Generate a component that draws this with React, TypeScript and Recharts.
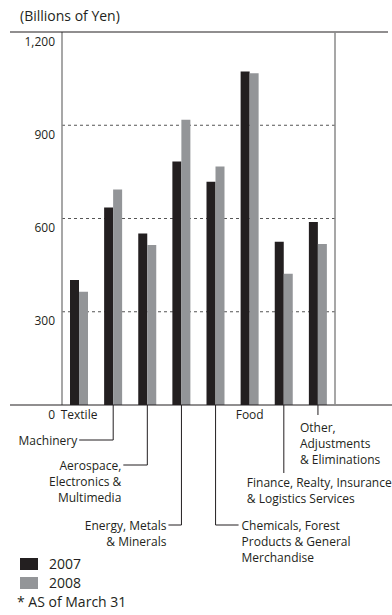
import React from 'react';
import { BarChart, Bar, XAxis, YAxis, CartesianGrid, Legend } from 'recharts';

// segment keys, in drawing order
const segments = ['Textile', 'Machinery', 'Aerospace', 'Energy', 'Chemicals', 'Food', 'Finance', 'Other'];

// label text under the axis, one entry per segment
const segmentLines = [
  ['Textile'],
  ['Machinery'],
  ['Aerospace,', 'Electronics &', 'Multimedia'],
  ['Energy, Metals', '& Minerals'],
  ['Chemicals, Forest', 'Products & General', 'Merchandise'],
  ['Food'],
  ['Finance, Realty, Insurance', '& Logistics Services'],
  ['Other,', 'Adjustments', '& Eliminations']
];

// total assets, billions of yen
const assets2007 = [402, 635, 552, 783, 718, 1073, 525, 589];
const assets2008 = [364, 693, 515, 918, 767, 1067, 422, 518];

const yTicks = [0, 300, 600, 900, 1200];
const years = ['2007', '2008'];

const data = segments.map((name, i) => ({
  name,
  y2007: assets2007[i],
  y2008: assets2008[i]
}));

// chart frame
const W = 392;
const H = 615;
const X_HEIGHT = 1;
const MARGIN = { top: 32, right: 57, bottom: 210 - X_HEIGHT, left: 10 };
const Y_WIDTH = 52;
const PLOT_RIGHT = W - MARGIN.right;
const PLOT_TOP = MARGIN.top;
const PLOT_BOTTOM = H - MARGIN.bottom - X_HEIGHT;

const INK = '#231f20';
const GREY = '#939598';
const FONT = '"Open Sans", "Noto Sans", sans-serif';
const LINE_H = 16;

// leader line layout for each label: drop below axis, horizontal hook, text offset
const callouts = [
  { drop: 0, hook: 0, dx: 0, anchor: 'middle', top: 9 },
  { drop: 35, hook: -34, dx: -36, anchor: 'end', top: 35 },
  { drop: 60, hook: -24, dx: -26, anchor: 'end', top: 60 },
  { drop: 120, hook: -13, dx: -15, anchor: 'end', top: 120 },
  { drop: 120, hook: 23, dx: 26, anchor: 'start', top: 120 },
  { drop: 0, hook: 0, dx: 0, anchor: 'middle', top: 9 },
  { drop: 68, hook: 0, dx: -37, anchor: 'start', top: 77 },
  { drop: 10, hook: 0, dx: -18, anchor: 'start', top: 22 }
];

const SegmentTick = (props: any) => {
  const { x, index } = props;
  const y = PLOT_BOTTOM;
  const lines = segmentLines[index];
  const c = callouts[index];
  return (
    <g>
      {c.drop > 0 && <line x1={x} y1={y} x2={x} y2={y + c.drop} stroke={INK} strokeWidth={1} />}
      {c.hook !== 0 && (
        <line x1={x} y1={y + c.drop} x2={x + c.hook} y2={y + c.drop} stroke={INK} strokeWidth={1} />
      )}
      {lines.map((t, k) => (
        <text
          key={k}
          x={x + c.dx}
          y={y + c.top + k * LINE_H}
          textAnchor={c.anchor}
          dominantBaseline="central"
          fontSize={12}
          fontFamily={FONT}
          fill={INK}
        >
          {t}
        </text>
      ))}
    </g>
  );
};

const ValueTick = (props: any) => {
  const { x, y, payload } = props;
  return (
    <text
      x={x}
      y={y + 9}
      textAnchor="end"
      dominantBaseline="central"
      fontSize={12}
      fontFamily={FONT}
      fill={INK}
    >
      {payload.value.toLocaleString('en-US')}
    </text>
  );
};

const YearLegend = () => (
  <div style={{ fontFamily: FONT, fontSize: 14, color: INK, lineHeight: '19px' }}>
    {years.map((yr, i) => (
      <div key={yr} style={{ display: 'flex', alignItems: 'center' }}>
        <span
          style={{
            display: 'inline-block',
            width: 18,
            height: 12,
            background: i === 0 ? INK : GREY,
            marginRight: 11
          }}
        />
        {yr}
      </div>
    ))}
    <div style={{ marginLeft: -3 }}>* AS of March 31</div>
  </div>
);

export default function App() {
  return (
    <div style={{ position: 'absolute', left: 0, top: 0, width: W, height: H, background: '#fff' }}>
      <div
        style={{
          position: 'absolute',
          left: 20,
          top: 6,
          fontFamily: FONT,
          fontSize: 14,
          color: INK,
          lineHeight: '20px'
        }}
      >
        (Billions of Yen)
      </div>
      <BarChart width={W} height={H} data={data} margin={MARGIN} barGap={0} barSize={9}>
        <CartesianGrid
          vertical={false}
          horizontalValues={[300, 600, 900]}
          stroke="#555"
          strokeDasharray="3 3"
          strokeWidth={1}
        />
        <XAxis
          dataKey="name"
          height={X_HEIGHT}
          interval={0}
          axisLine={false}
          tickLine={false}
          tickSize={0}
          tickMargin={0}
          tick={SegmentTick}
        />
        <YAxis
          width={Y_WIDTH}
          domain={[0, 1200]}
          ticks={yTicks}
          allowDataOverflow
          tickLine={false}
          tickSize={0}
          tickMargin={7}
          axisLine={{ stroke: '#8a8a8a', strokeWidth: 1.5 }}
          tick={ValueTick}
        />
        <Legend
          layout="vertical"
          align="center"
          verticalAlign="middle"
          wrapperStyle={{ left: 20, top: 554, width: 'auto' }}
          content={YearLegend}
        />
        <Bar dataKey="y2007" name="2007" fill={INK} isAnimationActive={false} />
        <Bar dataKey="y2008" name="2008" fill={GREY} isAnimationActive={false} />
      </BarChart>
      {/* outer frame: long top and base rules, right border */}
      <svg
        width={W}
        height={H}
        style={{ position: 'absolute', left: 0, top: 0, pointerEvents: 'none' }}
      >
        <line x1={10} y1={PLOT_TOP} x2={388} y2={PLOT_TOP} stroke={INK} strokeWidth={1.2} />
        <line x1={10} y1={PLOT_BOTTOM} x2={W} y2={PLOT_BOTTOM} stroke={INK} strokeWidth={1.2} />
        <line x1={PLOT_RIGHT} y1={PLOT_TOP} x2={PLOT_RIGHT} y2={PLOT_BOTTOM} stroke="#8a8a8a" strokeWidth={1.5} />
      </svg>
    </div>
  );
}
